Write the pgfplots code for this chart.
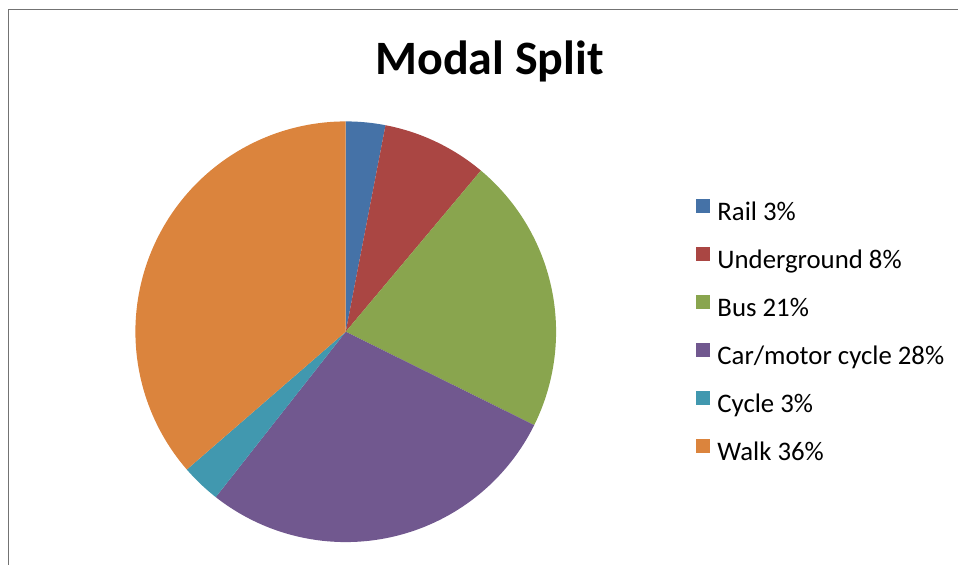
\documentclass[border=0pt]{standalone}
\usepackage{pgfplots}
\pgfplotsset{compat=1.18}
\usepackage{pgfplotstable}
\usepackage{fontspec}
\setmainfont{Carlito}
\definecolor{c0}{HTML}{4572A7}
\definecolor{c1}{HTML}{AA4643}
\definecolor{c2}{HTML}{89A54E}
\definecolor{c3}{HTML}{71588F}
\definecolor{c4}{HTML}{4198AF}
\definecolor{c5}{HTML}{DB843D}
\pgfplotstableread{
idx value
0 3
1 8
2 21
3 28
4 3
5 36
}\modaldata
\begin{document}
\begin{tikzpicture}
\begin{axis}[
  x=1pt, y=1pt,
  xmin=0, xmax=959, ymin=0, ymax=565,
  axis lines=none,
  scale only axis,
  clip=false,
  legend cell align=left,
  legend image code/.code={\fill[#1] (0pt,0pt) rectangle (14pt,14.5pt);},
  legend style={
    draw=none, fill=none,
    at={(axis cs:697,366)}, anchor=north west,
    inner sep=0pt, outer sep=0pt,
    row sep=20pt, column sep=7pt,
    nodes={inner sep=0pt, text height=21pt, text depth=6pt},
    font=\fontsize{26.8}{31}\selectfont,
  },
]
\path (axis cs:0,0) rectangle (axis cs:959,565);
% frame
\draw[color=gray!90!black, line width=1.5pt] (axis cs:8.5,0) -- (axis cs:8.5,555.5) -- (axis cs:959,555.5);
% title
\node[font=\bfseries\fontsize{48}{52}\selectfont, anchor=base] at (axis cs:490,490) {Modal Split};
% sum
\pgfmathsetmacro\total{0}
\pgfplotsforeachungrouped \i in {0,...,5}{%
  \pgfplotstablegetelem{\i}{value}\of\modaldata
  \pgfmathsetmacro\total{\total+\pgfplotsretval}%
  \global\let\total\total
}
\gdef\start{90}
\pgfplotsforeachungrouped \i in {0,...,5}{%
  \pgfplotstablegetelem{\i}{value}\of\modaldata
  \pgfmathsetmacro\wspan{\pgfplotsretval/\total*360}%
  \pgfmathsetmacro\stop{\start-\wspan}%
  \edef\temp{\noexpand\addplot[draw=none, fill=c\i, domain=\stop:\start, samples=90]
    ({346+210.5*cos(x)},{233+210.5*sin(x)}) -- (axis cs:346,233) -- cycle;}%
  \temp
  \global\let\start\stop
}
\legend{Rail 3\%, Underground 8\%, Bus 21\%, Car/motor cycle 28\%, Cycle 3\%, Walk 36\%}
\end{axis}
\end{tikzpicture}
\end{document}
